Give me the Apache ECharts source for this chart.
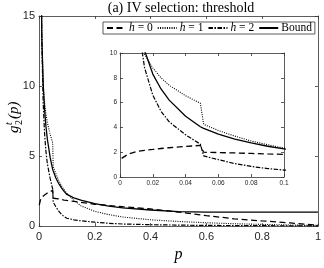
<!DOCTYPE html>
<html><head><meta charset="utf-8">
<script src="https://cdn.jsdelivr.net/npm/echarts@6/dist/echarts.min.js"></script>
<style>html,body{margin:0;padding:0;background:#fff}#c{width:324px;height:268px}</style>
</head><body><div id="c"></div>
<script>
// sample positions of p
const pValues = [0.001, 0.005, 0.01, 0.015, 0.02, 0.025, 0.03, 0.04, 0.049, 0.051, 0.06, 0.07, 0.08, 0.09, 0.1, 0.125, 0.15, 0.2, 0.25, 0.3, 0.4, 0.5, 0.6, 0.7, 0.8, 0.9, 1.0];
// series values
const h0Values    = [1.5, 1.85, 2.05, 2.15, 2.22, 2.3, 2.36, 2.46, 2.55, 2.0, 1.97, 1.94, 1.9, 1.86, 1.83, 1.77, 1.7, 1.56, 1.47, 1.38, 1.22, 1.0, 0.75, 0.52, 0.37, 0.23, 0.06];
const h1Values    = [null, 26, 14, 9.9, 8.8, 8.0, 7.4, 6.55, 5.95, 4.25, 3.75, 3.3, 2.9, 2.6, 2.33, 1.85, 1.45, 1.05, 0.82, 0.65, 0.45, 0.33, 0.24, 0.17, 0.12, 0.08, 0.05];
const h2Values    = [null, 26, 13.2, 8.8, 6.6, 5.3, 4.45, 3.4, 2.65, 1.7, 1.4, 1.08, 0.85, 0.68, 0.56, 0.45, 0.38, 0.28, 0.2, 0.15, 0.1, 0.07, 0.05, 0.04, 0.03, 0.02, 0.02];
const boundValues = [null, 24, 13.5, 10.2, 8.3, 7.1, 6.2, 4.9, 4.05, 3.92, 3.45, 3.06, 2.75, 2.48, 2.26, 2.02, 1.85, 1.6, 1.42, 1.3, 1.15, 1.04, 1.0, 1.0, 1.0, 1.0, 1.0];
const seriesNames = ['h = 0', 'h = 1', 'h = 2', 'Bound'];
// tick labels
const mainXTicks = ['0', '0.2', '0.4', '0.6', '0.8', '1'];
const mainYTicks = ['0', '5', '10', '15'];
const insetXTicks = ['0', '0.02', '0.04', '0.06', '0.08', '0.1'];
const insetYTicks = ['0', '2', '4', '6', '8', '10'];

const toPairs = vals => pValues.map((p, i) => [p, vals[i]]);
const allValues = [h0Values, h1Values, h2Values, boundValues];
const styles = [
  {type: [6, 3.5], width: 1.3},
  {type: [1, 1.3], width: 1.1},
  {type: [4.5, 1.5, 1.5, 1.5], width: 1.2},
  {type: 'solid', width: 1.3}
];
const axCol = '#333';
const sans = 'Liberation Sans';
const serif = 'Liberation Serif';

function mkAxis(grid, pos, min, max, interval, ticks, fs, margin, showLabel, z) {
  return {
    type: 'value', gridIndex: grid, position: pos, min, max, interval, z,
    axisLine: {show: true, onZero: false, lineStyle: {color: axCol, width: 0.8}},
    axisTick: {show: true, inside: true, length: 3, lineStyle: {color: axCol, width: 0.8}},
    splitLine: {show: false},
    axisLabel: {show: showLabel, fontFamily: sans, fontSize: fs, color: '#262626', margin,
      formatter: v => ticks[Math.round((v - min) / interval)]}
  };
}

const series = [];
allValues.forEach((vals, i) => {
  series.push({name: seriesNames[i], type: 'line', xAxisIndex: 0, yAxisIndex: 0, data: toPairs(vals),
    symbol: 'none', clip: true, z: 2, lineStyle: Object.assign({color: '#000'}, styles[i]), itemStyle: {color: '#000'}});
});
allValues.forEach((vals, i) => {
  series.push({name: seriesNames[i], type: 'line', xAxisIndex: 2, yAxisIndex: 2, data: toPairs(vals),
    symbol: 'none', clip: true, z: 5, lineStyle: Object.assign({color: '#000'}, styles[i]), itemStyle: {color: '#000'}});
});

const chart = echarts.init(document.getElementById('c'), null, {renderer: 'canvas'});
chart.setOption({
  animation: false,
  backgroundColor: '#fff',
  grid: [
    {left: 39, top: 16, width: 283, height: 216, containLabel: false},
    {left: 120, top: 53, width: 164, height: 124, show: true, backgroundColor: '#fff', borderWidth: 0, z: 3}
  ],
  xAxis: [
    Object.assign(mkAxis(0, 'bottom', 0, 1, 0.2, mainXTicks, 11, 5, true, 0), {
      name: 'p', nameLocation: 'middle', nameGap: 11,
      nameTextStyle: {fontFamily: serif, fontStyle: 'italic', fontSize: 16, color: '#000', verticalAlign: 'top'}}),
    mkAxis(0, 'top', 0, 1, 0.2, mainXTicks, 11, 5, false, 0),
    mkAxis(1, 'bottom', 0, 0.1, 0.02, insetXTicks, 6.5, 3, true, 4),
    mkAxis(1, 'top', 0, 0.1, 0.02, insetXTicks, 6.5, 3, false, 4)
  ],
  yAxis: [
    mkAxis(0, 'left', 0, 15, 5, mainYTicks, 11, 4, true, 0),
    mkAxis(0, 'right', 0, 15, 5, mainYTicks, 11, 4, false, 0),
    mkAxis(1, 'left', 0, 10, 2, insetYTicks, 6.5, 3, true, 4),
    mkAxis(1, 'right', 0, 10, 2, insetYTicks, 6.5, 3, false, 4)
  ],
  legend: {
    data: seriesNames, left: 103, top: 22, orient: 'horizontal',
    itemWidth: 19, itemHeight: 8, itemGap: 4, padding: [0, 3, 0, 3],
    borderColor: axCol, borderWidth: 0.8, backgroundColor: '#fff',
    itemStyle: {color: 'rgba(0,0,0,0)', borderWidth: 0, opacity: 0},
    textStyle: {fontFamily: serif, fontSize: 11.5, color: '#000', padding: [0, 0, 0, -2],
      rich: {i: {fontFamily: serif, fontStyle: 'italic', fontSize: 11.5, color: '#000'}}},
    formatter: n => n === 'Bound' ? 'Bound' : '{i|h} = ' + n.slice(-1)
  },
  graphic: [
    {type: 'text', x: 181, y: 1, style: {text: '(a) IV selection: threshold', textAlign: 'center',
      font: '14px "Liberation Serif"', fill: '#000'}},
    {type: 'group', x: 14, y: 133, rotation: Math.PI / 2, children: [
      {type: 'text', x: 0, y: 0, style: {text: 'g', font: 'italic 15px "Liberation Serif"', fill: '#000', verticalAlign: 'middle'}},
      {type: 'text', x: 8, y: -5, style: {text: 't', font: 'italic 10px "Liberation Serif"', fill: '#000', verticalAlign: 'middle'}},
      {type: 'text', x: 8, y: 5, style: {text: '2', font: '10px "Liberation Serif"', fill: '#000', verticalAlign: 'middle'}},
      {type: 'text', x: 14, y: 0, style: {text: '(p)', font: 'italic 15px "Liberation Serif"', fill: '#000', verticalAlign: 'middle'}}
    ]}
  ],
  series
});
</script></body></html>
